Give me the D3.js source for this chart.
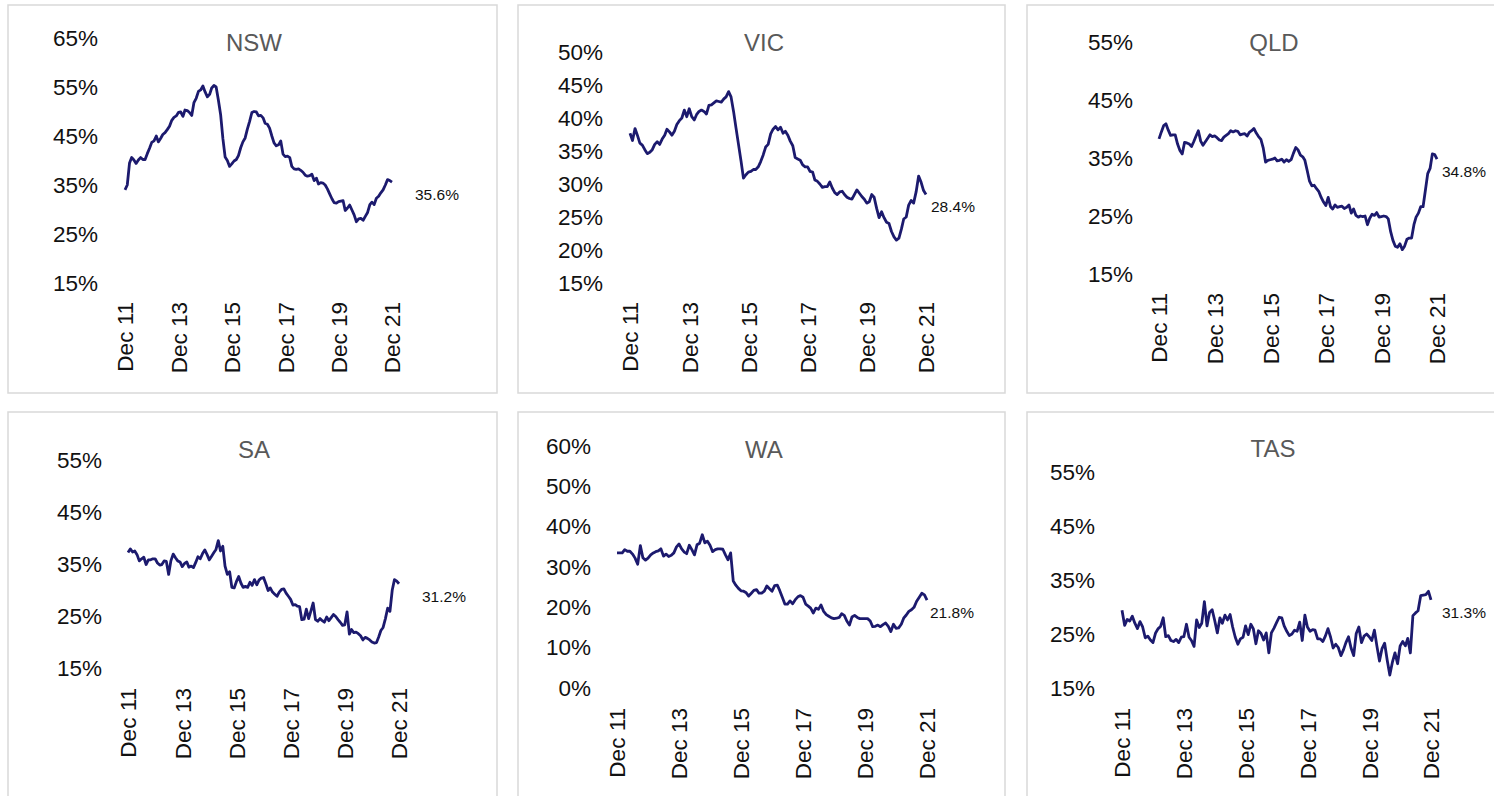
<!DOCTYPE html>
<html>
<head>
<meta charset="utf-8">
<script src="https://cdn.jsdelivr.net/npm/d3@7"></script>
<style>
  html, body { margin: 0; padding: 0; background: #fff; }
  svg { display: block; font-family: "Liberation Sans", Arial, sans-serif; }
</style>
</head>
<body>
<svg id="chart" width="1494" height="796"></svg>
<script>
// Monthly share (%) by state, Dec 2011 – Dec 2021
const nsw = [34.0,35.0,39.5,40.6,40.1,39.4,40.1,40.6,40.2,40.2,
  41.4,42.5,43.7,44.0,45.0,43.8,44.5,45.3,45.7,46.3,
  47.0,48.2,48.8,49.1,49.8,49.9,49.0,50.3,50.2,49.8,
  49.2,51.8,52.7,54.1,54.4,55.2,54.0,53.0,53.5,54.8,
  55.3,55.0,52.3,49.4,44.5,40.7,40.0,38.8,39.3,39.9,
  40.2,41.0,42.6,43.8,44.6,46.4,48.0,49.8,50.0,49.9,
  49.1,49.2,48.7,47.6,47.4,46.6,45.0,43.6,43.0,43.2,
  44.0,41.3,40.8,40.9,40.6,38.8,38.3,38.2,38.3,38.0,
  37.6,37.0,36.8,36.9,37.2,35.9,36.4,35.2,35.5,35.4,
  35.0,34.2,33.2,32.2,31.4,31.3,31.6,31.7,31.8,29.8,
  30.3,30.9,29.9,28.9,27.5,28.1,28.2,27.8,28.6,29.4,
  31.0,31.5,31.0,32.3,32.7,33.4,34.0,35.0,36.1,35.9,
  35.6];
const vic = [37.7,36.6,38.4,37.4,36.2,35.9,35.2,34.6,34.8,35.2,
  36.0,36.4,36.0,36.8,37.4,38.3,37.9,37.4,38.0,39.0,
  39.6,40.0,41.2,40.2,41.4,40.2,39.7,40.5,41.0,41.2,
  41.0,40.6,41.9,42.0,42.3,42.6,42.5,42.4,42.9,43.2,
  44.0,43.2,41.0,38.5,36.0,33.5,30.9,31.4,31.8,31.9,
  32.2,32.2,32.6,33.4,34.4,35.6,36.0,37.6,38.3,38.7,
  38.2,38.6,37.7,38.0,37.4,36.5,35.8,34.0,33.8,33.6,
  32.9,32.6,32.6,31.9,31.8,30.6,30.4,30.0,29.5,29.6,
  29.6,30.3,29.4,28.7,28.4,28.8,28.9,28.4,28.0,27.8,
  27.7,28.4,29.1,28.6,28.1,27.7,27.1,27.3,28.4,28.0,
  26.3,24.9,25.8,24.9,24.2,24.0,22.8,22.0,21.5,21.8,
  23.2,24.7,25.0,26.8,27.5,27.1,28.8,31.2,30.3,29.0,
  28.4];
const qld = [38.3,39.5,40.6,40.9,39.8,38.9,39.0,39.0,37.4,36.3,
  35.7,37.7,37.6,37.4,37.0,37.8,38.8,39.7,37.9,37.2,
  37.8,38.4,39.0,38.7,38.8,38.5,38.1,38.0,38.6,38.9,
  39.2,39.7,39.5,39.7,39.6,39.0,39.1,39.2,38.8,39.4,
  39.7,40.1,39.3,38.7,38.2,36.7,34.3,34.6,34.7,34.8,
  35.0,34.5,34.6,34.8,34.3,34.7,34.4,34.7,35.8,36.8,
  36.4,35.5,35.2,34.6,32.8,31.0,30.2,30.3,29.7,29.2,
  28.2,27.4,26.8,28.2,26.6,26.2,26.9,26.5,26.6,26.7,
  26.3,26.5,26.9,25.5,26.2,25.1,24.8,25.0,24.9,25.0,
  23.5,24.6,25.3,25.1,25.6,24.8,24.9,25.0,24.9,24.5,
  22.3,20.8,19.8,19.6,20.2,19.2,19.8,21.0,21.2,21.2,
  23.5,24.8,25.5,26.6,26.6,29.4,32.3,33.2,35.7,35.6,
  34.8];
const sa = [37.2,37.9,37.3,37.5,36.8,35.6,36.0,36.3,34.9,35.8,
  35.8,36.0,36.0,35.2,34.8,34.9,35.6,35.5,33.0,35.6,
  36.9,36.2,35.6,35.4,34.5,35.1,35.4,34.4,34.6,34.3,
  35.3,36.4,36.0,37.0,37.7,36.8,35.8,36.5,37.2,37.8,
  39.5,37.5,38.4,34.6,33.0,33.5,30.5,30.4,31.6,32.6,
  31.3,30.5,30.7,30.5,31.5,30.9,32.0,31.0,31.9,32.3,
  32.4,31.2,29.9,30.4,29.6,29.2,28.8,29.6,30.1,30.2,
  29.4,28.8,28.2,27.1,27.2,26.9,26.8,24.3,24.4,26.3,
  24.5,26.0,27.5,24.3,24.0,24.5,24.1,23.8,24.8,24.1,
  24.7,25.3,24.9,24.3,23.8,23.2,23.3,25.8,21.5,22.4,
  21.8,21.9,21.6,21.2,20.4,20.9,20.7,20.4,20.0,19.8,
  19.9,20.9,22.2,22.8,24.5,26.5,25.9,30.0,32.0,31.7,
  31.2];
const wa = [33.5,33.5,33.5,34.3,33.9,33.9,33.2,32.2,30.7,35.3,
  32.3,31.7,32.2,33.0,33.5,33.8,34.0,34.5,32.7,33.2,
  32.6,32.9,33.5,35.0,35.7,34.5,33.7,33.3,35.4,34.3,
  33.0,35.5,35.9,38.0,36.0,36.4,35.4,33.8,34.3,34.5,
  34.5,34.4,33.0,31.8,33.5,26.5,25.5,24.7,24.1,24.0,
  23.6,22.8,23.5,24.2,24.4,23.5,23.5,24.0,25.3,24.6,
  24.0,25.4,25.5,24.2,22.5,20.8,20.8,21.6,20.9,21.9,
  22.6,22.9,22.5,20.8,20.3,19.8,18.6,19.8,19.5,20.6,
  19.0,18.2,17.8,17.4,17.2,17.3,17.5,18.4,18.0,16.6,
  15.6,17.6,18.0,17.5,17.2,17.2,17.2,17.2,16.6,15.2,
  15.3,15.6,15.2,15.7,16.1,15.3,14.0,15.8,14.8,14.9,
  15.8,17.3,18.1,19.0,19.4,20.0,21.5,22.5,23.5,23.1,
  21.8];
const tas = [29.4,26.6,27.7,27.4,28.3,27.0,26.0,27.3,26.3,24.3,
  24.6,23.9,23.4,25.2,26.0,26.4,28.0,24.5,24.7,23.8,
  23.6,24.0,23.4,24.4,24.5,26.8,24.4,23.8,22.7,27.6,
  26.2,27.0,31.0,26.5,29.0,29.5,27.5,25.2,28.0,27.0,
  28.5,27.6,28.6,26.3,24.4,23.1,24.1,24.4,26.5,24.9,
  26.8,26.0,23.2,25.6,25.1,23.9,25.2,21.5,25.2,26.1,
  27.1,28.1,28.0,26.5,25.5,24.7,25.0,25.7,25.5,27.2,
  23.8,28.5,26.3,25.5,25.8,25.7,24.1,24.1,23.6,24.6,
  26.0,24.4,22.4,23.1,22.5,21.0,22.1,23.4,24.5,22.4,
  21.0,25.1,26.3,23.4,24.6,25.0,24.5,23.8,25.7,22.8,
  20.0,22.3,23.3,20.2,17.4,19.8,21.5,19.5,22.8,23.6,
  22.8,24.2,21.5,28.4,28.9,29.3,32.1,32.2,32.3,32.9,
  31.3];

// Panel titles
const states = ["NSW", "VIC", "QLD", "SA", "WA", "TAS"];

// Y tick values (%) per panel
const nswTicks = [15, 25, 35, 45, 55, 65];
const vicTicks = [15, 20, 25, 30, 35, 40, 45, 50];
const qldTicks = [15, 25, 35, 45, 55];
const saTicks  = [15, 25, 35, 45, 55];
const waTicks  = [0, 10, 20, 30, 40, 50, 60];
const tasTicks = [15, 25, 35, 45, 55];

// X tick labels (every second December)
const xTickLabels = ["Dec 11", "Dec 13", "Dec 15", "Dec 17", "Dec 19", "Dec 21"];

// Month axis
const months = d3.timeMonths(new Date(2011, 11, 1), new Date(2022, 0, 1));
const parseTick = d3.timeParse("%b %y");
const formatTick = d3.timeFormat("%b %y");

const seriesList = [nsw, vic, qld, sa, wa, tas];
const tickList = [nswTicks, vicTicks, qldTicks, saTicks, waTicks, tasTicks];

// Panel geometry
const layout = [
  { box: [8, 5, 489, 388],    x: [125, 392],   y: [283, 38],  labelX: 98,   title: [254, 42],  value: [415, 195], xLabelY: 302 },
  { box: [518, 5, 487, 388],  x: [630, 926],   y: [283, 52],  labelX: 603,  title: [764, 42],  value: [931, 207], xLabelY: 302 },
  { box: [1027, 5, 480, 388], x: [1159, 1437], y: [274, 42],  labelX: 1133, title: [1274, 42], value: [1442, 172], xLabelY: 293 },
  { box: [8, 412, 489, 400],  x: [128, 399],   y: [668, 460], labelX: 102,  title: [254, 449], value: [422, 597], xLabelY: 688 },
  { box: [518, 412, 487, 400],x: [617, 927],   y: [688, 446], labelX: 591,  title: [764, 449], value: [930, 613], xLabelY: 708 },
  { box: [1027, 412, 480, 400],x: [1122, 1431],y: [688, 472], labelX: 1095, title: [1273, 448], value: [1442, 613], xLabelY: 708 }
];

const lineColor = "#1c1a6e";
const svg = d3.select("#chart");

seriesList.forEach((values, i) => {
  const L = layout[i];
  const ticks = tickList[i];
  const g = svg.append("g");

  // Panel frame
  g.append("rect")
    .attr("x", L.box[0]).attr("y", L.box[1])
    .attr("width", L.box[2]).attr("height", L.box[3])
    .attr("fill", "#fff")
    .attr("stroke", "#d9d9d9")
    .attr("stroke-width", 1.5);

  const x = d3.scaleTime()
    .domain([months[0], months[months.length - 1]])
    .range(L.x);
  const y = d3.scaleLinear()
    .domain(d3.extent(ticks))
    .range(L.y);

  // Y axis labels
  const yAxis = d3.axisLeft(y)
    .tickValues(ticks)
    .tickFormat(d => d + "%")
    .tickSize(0)
    .tickPadding(0);
  const ya = g.append("g")
    .attr("transform", `translate(${L.labelX},0)`)
    .call(yAxis);
  ya.select(".domain").remove();
  ya.selectAll("text")
    .attr("font-family", "Liberation Sans, Arial, sans-serif")
    .attr("font-size", 22.5)
    .attr("fill", "#111");

  // X axis labels, rotated
  const xAxis = d3.axisBottom(x)
    .tickValues(xTickLabels.map(s => parseTick(s)))
    .tickFormat(formatTick)
    .tickSize(0);
  const xa = g.append("g")
    .attr("transform", `translate(0,${L.xLabelY})`)
    .call(xAxis);
  xa.select(".domain").remove();
  xa.selectAll("text")
    .attr("x", 0).attr("y", 0).attr("dy", "0.35em")
    .attr("transform", "rotate(-90)")
    .style("text-anchor", "end")
    .attr("font-family", "Liberation Sans, Arial, sans-serif")
    .attr("font-size", 22.5)
    .attr("fill", "#111");

  // Title
  g.append("text")
    .attr("x", L.title[0]).attr("y", L.title[1])
    .attr("dy", "0.36em")
    .attr("text-anchor", "middle")
    .attr("font-size", 24)
    .attr("fill", "#595959")
    .text(states[i]);

  // Series line
  const line = d3.line()
    .x((d, j) => x(months[j]))
    .y(d => y(d));
  g.append("path")
    .datum(values)
    .attr("d", line)
    .attr("fill", "none")
    .attr("stroke", lineColor)
    .attr("stroke-width", 2.8)
    .attr("stroke-linejoin", "round");

  // Latest value label
  const last = values[values.length - 1];
  g.append("text")
    .attr("x", L.value[0]).attr("y", L.value[1])
    .attr("dy", "0.35em")
    .attr("font-size", 15.5)
    .attr("fill", "#111")
    .text(last.toFixed(1) + "%");
});
</script>
</body>
</html>
